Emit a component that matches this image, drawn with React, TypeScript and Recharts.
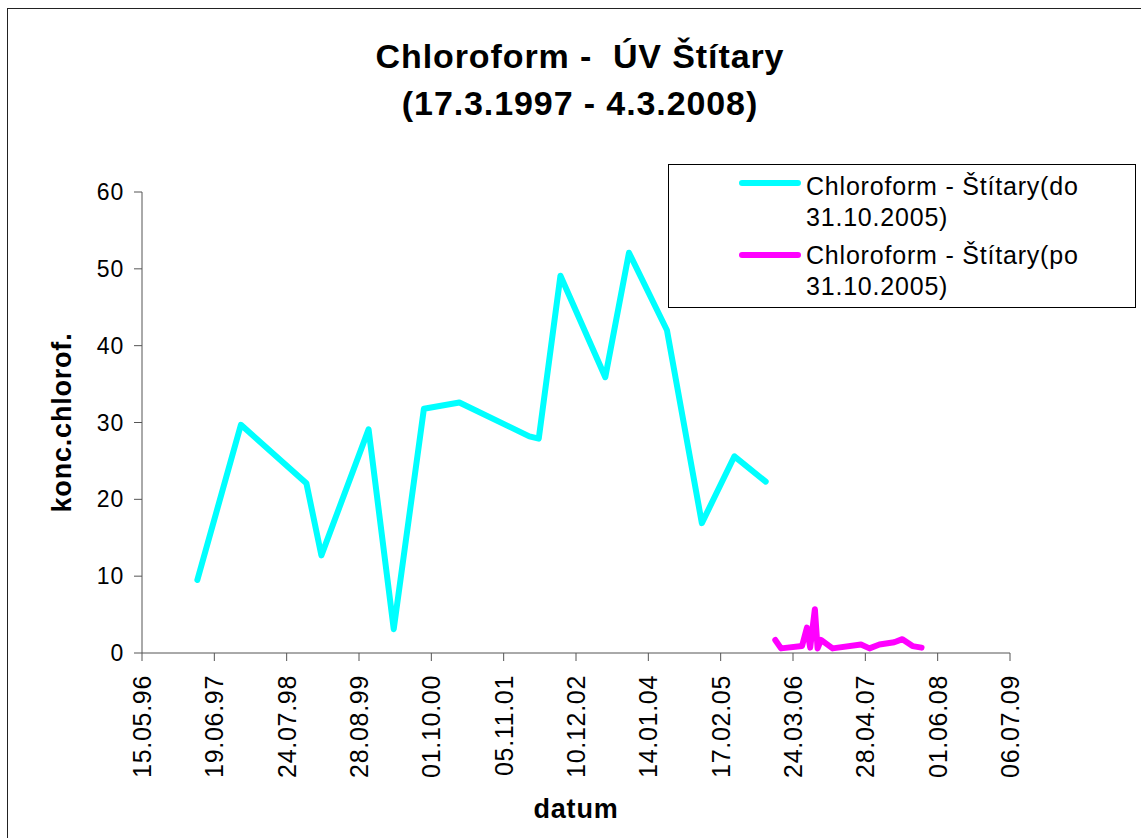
import React from 'react';
import { LineChart, Line, XAxis, YAxis } from 'recharts';

const FONT = '"Liberation Sans", Arial, sans-serif';

const titleLines = ['Chloroform -  ÚV Štítary', '(17.3.1997 - 4.3.2008)'];
const xAxisTitle = 'datum';
const yAxisTitle = 'konc.chlorof.';

const xTickLabels = ['15.05.96', '19.06.97', '24.07.98', '28.08.99', '01.10.00', '05.11.01', '10.12.02', '14.01.04', '17.02.05', '24.03.06', '28.04.07', '01.06.08', '06.07.09'];
const yTicks = [0, 10, 20, 30, 40, 50, 60];

const seriesNames = ['Chloroform - Štítary(do|31.10.2005)', 'Chloroform - Štítary(po|31.10.2005)'];
const seriesColors = ['#00FFFF', '#FF00FF'];

const beforeDates = ['17.03.1997', '13.11.1997', '10.11.1998', '01.02.1999', '20.10.1999', '07.03.2000', '21.08.2000', '05.03.2001', '27.03.2002', '18.05.2002', '15.09.2002', '21.05.2003', '29.09.2003', '26.04.2004', '05.11.2004', '04.05.2005', '24.10.2005'];
const beforeValues = [9.5, 29.7, 22.1, 12.7, 29.1, 3.1, 31.8, 32.6, 28.2, 27.9, 49.1, 35.9, 52.1, 42.0, 16.9, 25.6, 22.3];

const afterDates = ['16.12.2005', '17.01.2006', '13.05.2006', '09.06.2006', '27.06.2006', '23.07.2006', '07.08.2006', '26.08.2006', '29.10.2006', '04.04.2007', '21.05.2007', '15.07.2007', '05.10.2007', '19.11.2007', '14.01.2008', '04.03.2008'];
const afterValues = [1.7, 0.6, 0.9, 3.3, 0.7, 5.7, 0.6, 1.7, 0.6, 1.1, 0.6, 1.1, 1.4, 1.8, 0.9, 0.7];

function dayNum(s: string): number {
  const [d, m, y] = s.split('.').map(Number);
  const yy = y < 100 ? (y < 50 ? 2000 + y : 1900 + y) : y;
  return Date.UTC(yy, m - 1, d) / 86400000;
}

const xTicks = xTickLabels.map(dayNum);
const labelByTick: Record<number, string> = {};
xTicks.forEach((t, i) => { labelByTick[t] = xTickLabels[i]; });

const beforeData = beforeDates.map((d, i) => ({ t: dayNum(d), v: beforeValues[i] }));
const afterData = afterDates.map((d, i) => ({ t: dayNum(d), v: afterValues[i] }));

const XTick = (props: any) => {
  const { x, y, payload } = props;
  const label = labelByTick[payload.value] ?? '';
  return (
    <text
      x={x}
      y={y}
      transform={`rotate(-90 ${x} ${y})`}
      textAnchor="end"
      dy="0.36em"
      fontFamily={FONT}
      fontSize={25}
      letterSpacing={0.7}
      fill="#000"
    >
      {label}
    </text>
  );
};

const YLabel = (props: any) => {
  const vb = props.viewBox || {};
  const cx = vb.x - 20;
  const cy = vb.y + vb.height / 2;
  return (
    <text
      x={cx}
      y={cy}
      transform={`rotate(-90 ${cx} ${cy})`}
      textAnchor="middle"
      dy="0.35em"
      fontFamily={FONT}
      fontSize={27}
      fontWeight="bold"
      letterSpacing={0.8}
      fill="#000"
    >
      {yAxisTitle}
    </text>
  );
};

export default function App() {
  return (
    <div style={{ position: 'absolute', left: 0, top: 0, width: 1141, height: 838, overflow: 'hidden', background: '#fff' }}>
      <div style={{ position: 'absolute', left: 0, top: 0 }}>
        <LineChart width={1141} height={838} margin={{ top: 192, right: 131, bottom: 0, left: 82 }}>
          <XAxis
            type="number"
            dataKey="t"
            domain={[xTicks[0], xTicks[xTicks.length - 1]]}
            ticks={xTicks}
            interval={0}
            height={185}
            tickSize={8}
            tickMargin={14}
            tick={<XTick />}
            stroke="#555"
            allowDataOverflow
            label={{ value: xAxisTitle, position: 'insideBottom', offset: 20, fontFamily: FONT, fontSize: 27, fontWeight: 'bold', fill: '#000', letterSpacing: 0.8 }}
          />
          <YAxis
            type="number"
            domain={[0, 60]}
            ticks={yTicks}
            interval={0}
            width={60}
            tickSize={8}
            tickMargin={10}
            stroke="#555"
            tick={{ fontFamily: FONT, fontSize: 23, fill: '#000', letterSpacing: 0.8 }}
            label={<YLabel />}
          />
          <Line
            data={beforeData}
            dataKey="v"
            stroke={seriesColors[0]}
            strokeWidth={6}
            strokeLinejoin="round"
            strokeLinecap="round"
            dot={false}
            activeDot={false}
            isAnimationActive={false}
          />
          <Line
            data={afterData}
            dataKey="v"
            stroke={seriesColors[1]}
            strokeWidth={6}
            strokeLinejoin="round"
            strokeLinecap="round"
            dot={false}
            activeDot={false}
            isAnimationActive={false}
          />
        </LineChart>
      </div>
      <svg width={1141} height={838} style={{ position: 'absolute', left: 0, top: 0, pointerEvents: 'none' }}>
        <rect x={7.5} y={8.5} width={1200} height={900} fill="none" stroke="#222" strokeWidth={1} />
        <text x={580} y={68} textAnchor="middle" fontFamily={FONT} fontSize={34} fontWeight="bold" letterSpacing={0.9} fill="#000" style={{ whiteSpace: 'pre' }}>{titleLines[0]}</text>
        <text x={580} y={115} textAnchor="middle" fontFamily={FONT} fontSize={34} fontWeight="bold" letterSpacing={0.9} fill="#000">{titleLines[1]}</text>
        <rect x={668.5} y={164.5} width={467} height={143} fill="#fff" stroke="#000" strokeWidth={1} />
        {seriesNames.map((name, i) => {
          const parts = name.split('|');
          const base = i === 0 ? 195 : 264;
          const lineY = i === 0 ? 183 : 255;
          return (
            <g key={i}>
              <line x1={742} x2={798} y1={lineY} y2={lineY} stroke={seriesColors[i]} strokeWidth={6} strokeLinecap="round" />
              <text x={806} y={base} fontFamily={FONT} fontSize={25} letterSpacing={0.8} fill="#000">{parts[0]}</text>
              <text x={806} y={base + 31} fontFamily={FONT} fontSize={25} letterSpacing={0.8} fill="#000">{parts[1]}</text>
            </g>
          );
        })}
      </svg>
    </div>
  );
}
